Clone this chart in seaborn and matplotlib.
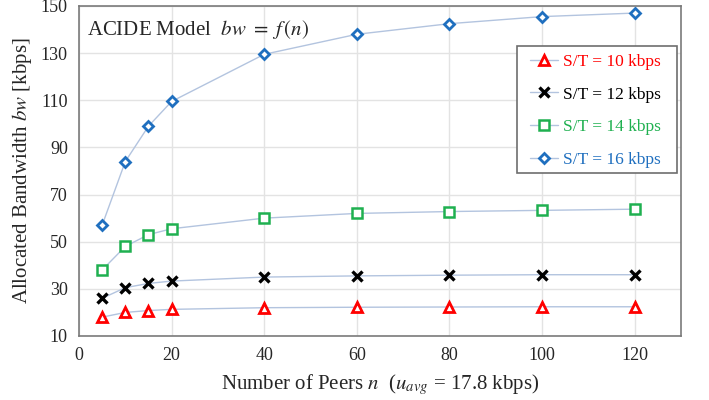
import matplotlib
matplotlib.use("Agg")
import matplotlib.pyplot as plt
from matplotlib.patches import Rectangle
import seaborn as sns
import pandas as pd

# Peer counts and allocated bandwidth (kbps) for each streaming rate S/T
peers = [5, 10, 15, 20, 40, 60, 80, 100, 120]
bw_st10 = [18.0, 20.0, 20.8, 21.3, 22.0, 22.2, 22.3, 22.4, 22.4]
bw_st12 = [26.0, 30.5, 32.3, 33.3, 35.0, 35.5, 35.8, 36.0, 36.0]
bw_st14 = [38.0, 48.0, 53.0, 55.5, 60.0, 62.0, 62.8, 63.3, 63.8]
bw_st16 = [57.0, 84.0, 99.0, 109.5, 129.5, 138.0, 142.5, 145.5, 147.0]
series_labels = ["S/T = 10 kbps", "S/T = 12 kbps", "S/T = 14 kbps", "S/T = 16 kbps"]
x_ticks = [0, 20, 40, 60, 80, 100, 120]
y_ticks = [10, 30, 50, 70, 90, 110, 130, 150]

sns.set_theme(style="white")
plt.rcParams["font.family"] = ["Liberation Serif", "DejaVu Serif"]
plt.rcParams["mathtext.fontset"] = "stix"

fig = plt.figure(figsize=(7.09, 4.0), dpi=100)
ax = fig.add_axes([0.1114, 0.16, 0.849, 0.825])

line_color = "#b3c4df"
styles = [
    dict(marker="^", markersize=7, markerfacecolor="white", markeredgecolor="#ff0000", markeredgewidth=2.0),
    dict(marker="x", markersize=7, markeredgecolor="#000000", markeredgewidth=2.4),
    dict(marker="s", markersize=7, markerfacecolor="white", markeredgecolor="#1fb050", markeredgewidth=1.8),
    dict(marker="D", markersize=5.5, markerfacecolor="white", markeredgecolor="#1f6fbf", markeredgewidth=2.0),
]
text_colors = ["#ff0000", "#000000", "#1fb050", "#1f6fbf"]

for vals, lab, st in zip([bw_st10, bw_st12, bw_st14, bw_st16], series_labels, styles):
    df = pd.DataFrame({"n": peers, "bw": vals})
    sns.lineplot(data=df, x="n", y="bw", ax=ax, color=line_color, linewidth=1.0,
                 label=lab, **st)

ax.set_xlim(0, 130)
ax.set_ylim(10, 150)
ax.set_xticks(x_ticks)
ax.set_yticks(y_ticks)
ax.tick_params(axis="both", labelsize=13, length=0, pad=8)

ax.grid(True, color="#e3e3e3", linewidth=1.0)
ax.set_axisbelow(True)
for sp in ax.spines.values():
    sp.set_color("#7a7a7a")
    sp.set_linewidth(1.2)

ax.set_xlabel(r"Number of Peers $n$  ($u_{avg}$ = 17.8 kbps)", fontsize=15, labelpad=6)
ax.set_ylabel(r"Allocated Bandwidth $bw$ [kbps]", fontsize=15, labelpad=5)

ax.text(0.013, 0.965, r"ACIDE Model  $bw\ =\ f\,(n)$", transform=ax.transAxes,
        fontsize=15, ha="left", va="top")

# Legend box drawn as a separate white panel, entries placed inside it
ax.add_patch(Rectangle((0.7276, 0.494), 0.2654, 0.385, transform=ax.transAxes,
                       facecolor="white", edgecolor="#6e6e6e", linewidth=1.2, zorder=4.5))
leg = ax.legend(loc="upper right", bbox_to_anchor=(0.98, 0.879), fontsize=12.5,
                frameon=False, handlelength=1.6, borderpad=0.45, labelspacing=0.95,
                handletextpad=0.3, borderaxespad=0)
leg.set_zorder(5)
for t, c in zip(leg.get_texts(), text_colors):
    t.set_color(c)

fig.savefig("out.png", dpi=100)
